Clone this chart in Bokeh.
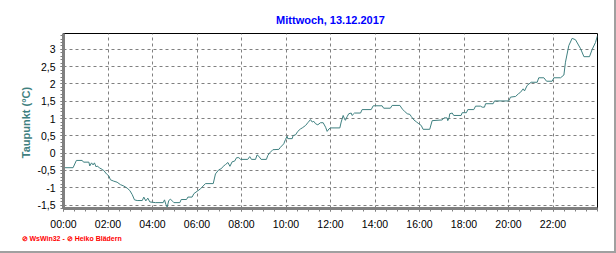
from bokeh.plotting import figure
from bokeh.models import FixedTicker, CustomJSTickFormatter, Title, Range1d
from bokeh.embed import file_html
from bokeh.resources import INLINE

title_text = "Mittwoch, 13.12.2017"
y_label_text = "Taupunkt  (°C)"
footer_text = "⊘ WsWin32  -  ⊘ Heiko Blädern"

hours = [0.0, 0.43, 0.58, 0.84, 0.9, 1.14, 1.18, 1.26, 1.33, 1.39, 1.47, 1.51, 1.63, 1.74, 1.81, 1.93,
         2.04, 2.11, 2.26, 2.41, 2.56, 2.71, 2.86, 2.98, 3.09, 3.19, 3.31, 3.54, 3.61, 3.70, 3.79, 3.88,
         4.13, 4.48, 4.54, 4.60, 4.66, 4.73, 4.81, 4.90, 4.96, 5.23, 5.29, 5.53, 5.59, 5.78, 5.86, 6.01,
         6.16, 6.23, 6.38, 6.73, 6.83, 6.98, 7.09, 7.18, 7.28, 7.39, 7.48, 7.58, 7.69, 7.78, 7.88, 7.96,
         8.28, 8.37, 8.45, 8.63, 8.70, 8.78, 8.88, 9.12, 9.18, 9.27, 9.41, 9.68, 9.75, 9.90, 9.98, 10.05,
         10.08, 10.28, 10.32, 10.43, 10.53, 10.65, 10.73, 10.88, 10.98, 11.10, 11.18, 11.25, 11.33, 11.43,
         11.55, 11.67, 11.78, 11.85, 11.93, 12.00, 12.42, 12.48, 12.57, 12.63, 12.67, 12.75, 12.82, 12.93,
         12.97, 13.08, 13.35, 13.42, 13.83, 13.92, 14.32, 14.39, 14.69, 14.77, 15.12, 15.22, 15.33, 15.45,
         15.57, 15.63, 15.75, 15.87, 15.97, 16.08, 16.16, 16.46, 16.57, 17.02, 17.10, 17.24, 17.27, 17.33,
         17.36, 17.47, 17.54, 17.87, 17.92, 18.11, 18.17, 18.44, 18.52, 18.74, 18.82, 18.92, 18.97, 19.31,
         19.37, 20.01, 20.09, 20.32, 20.45, 20.54, 20.66, 20.72, 20.84, 21.02, 21.29, 21.36, 21.59, 21.71,
         21.96, 22.04, 22.34, 22.49, 22.56, 22.71, 22.86, 23.01, 23.24, 23.39, 23.64, 23.76, 23.91, 24.0]

dewpoint = [-0.42, -0.42, -0.21, -0.21, -0.26, -0.26, -0.37, -0.28, -0.34, -0.28, -0.40, -0.37, -0.43, -0.47, -0.50, -0.60,
            -0.66, -0.77, -0.81, -0.84, -0.91, -0.95, -1.01, -1.08, -1.20, -1.35, -1.37, -1.37, -1.27, -1.38, -1.30, -1.41,
            -1.43, -1.43, -1.35, -1.48, -1.56, -1.37, -1.33, -1.39, -1.43, -1.43, -1.34, -1.34, -1.27, -1.27, -1.17, -1.10,
            -1.03, -0.98, -0.88, -0.88, -0.60, -0.48, -0.45, -0.38, -0.33, -0.27, -0.38, -0.25, -0.23, -0.13, -0.13, -0.18,
            -0.18, -0.10, -0.18, -0.18, -0.05, -0.09, -0.18, -0.18, -0.07, 0.01, 0.10, 0.11, 0.17, 0.27, 0.40, 0.49,
            0.42, 0.42, 0.51, 0.53, 0.63, 0.70, 0.73, 0.80, 0.88, 0.97, 0.90, 0.92, 0.85, 0.82,
            0.88, 0.88, 0.75, 0.63, 0.70, 0.73, 0.73, 0.90, 1.09, 0.99, 0.95, 1.06, 1.14, 1.16,
            1.09, 1.16, 1.16, 1.26, 1.26, 1.37, 1.37, 1.30, 1.30, 1.38, 1.38, 1.28, 1.21, 1.14,
            1.12, 1.06, 0.96, 0.90, 0.85, 0.80, 0.69, 0.69, 0.94, 0.96, 1.02, 1.02, 0.94, 1.02,
            1.14, 1.16, 1.09, 1.09, 1.17, 1.17, 1.26, 1.26, 1.36, 1.36, 1.33, 1.33, 1.43, 1.43,
            1.51, 1.51, 1.62, 1.64, 1.72, 1.76, 1.86, 1.80, 1.96, 2.05, 2.05, 2.18, 2.18, 2.08,
            2.08, 2.18, 2.18, 2.26, 2.63, 3.11, 3.32, 3.28, 3.02, 2.79, 2.79, 3.00, 3.20, 3.40]

x_ticks = [0, 2, 4, 6, 8, 10, 12, 14, 16, 18, 20, 22]
x_tick_labels = ["00:00", "02:00", "04:00", "06:00", "08:00", "10:00", "12:00", "14:00", "16:00", "18:00", "20:00", "22:00"]
x_minor = [i * 0.5 for i in range(0, 49)]
y_ticks = [-1.5, -1.0, -0.5, 0.0, 0.5, 1.0, 1.5, 2.0, 2.5, 3.0]
y_tick_labels = ["-1,5", "-1", "-0,5", "0", "0,5", "1", "1,5", "2", "2,5", "3"]
y_minor = [round(-1.6 + i * 0.1, 2) for i in range(0, 51)]

FONT = "Liberation Sans"
TEAL = "#3f8080"
GRAY = "#808080"

p = figure(width=616, height=253, output_backend="svg", toolbar_location=None,
           x_range=Range1d(0, 24), y_range=Range1d(-1.6, 3.46),
           min_border_left=63, min_border_right=19, min_border_top=33, min_border_bottom=45,
           background_fill_color="white", border_fill_color="white")

p.title.text = title_text
p.title.align = "center"
p.title.vertical_align = "top"
p.title.text_font = FONT
p.title.text_font_size = "11px"
p.title.text_font_style = "bold"
p.title.text_color = "#0000ff"
p.title.standoff = 12

p.line(hours, dewpoint, line_color=TEAL, line_width=1)

p.outline_line_color = "black"
p.outline_line_width = 1

fmt_code = """
const i = vals.findIndex(v => Math.abs(v - tick) < 1e-6);
return i >= 0 ? labs[i] : '';
"""
p.xaxis.ticker = FixedTicker(ticks=x_ticks, minor_ticks=x_minor)
p.xaxis.formatter = CustomJSTickFormatter(args=dict(vals=x_ticks, labs=x_tick_labels), code=fmt_code)
p.yaxis.ticker = FixedTicker(ticks=y_ticks, minor_ticks=y_minor)
p.yaxis.formatter = CustomJSTickFormatter(args=dict(vals=y_ticks, labs=y_tick_labels), code=fmt_code)

for ax in (p.xaxis, p.yaxis):
    ax.axis_line_color = GRAY
    ax.axis_line_width = 3
    ax.major_tick_line_color = GRAY
    ax.minor_tick_line_color = GRAY
    ax.major_tick_in = 0
    ax.minor_tick_in = 0
    ax.major_tick_out = 3
    ax.minor_tick_out = 3
    ax.major_label_text_font = FONT
    ax.major_label_text_font_size = "10.5px"
    ax.major_label_text_color = "black"

p.xaxis.major_label_standoff = 6
p.yaxis.major_label_standoff = 5

p.yaxis.axis_label = y_label_text
p.yaxis.axis_label_text_font = FONT
p.yaxis.axis_label_text_font_size = "11px"
p.yaxis.axis_label_text_font_style = "bold"
p.yaxis.axis_label_text_color = TEAL
p.yaxis.axis_label_standoff = 2

for g in (p.xgrid, p.ygrid):
    g.grid_line_color = GRAY
    g.grid_line_dash = "3 3"
    g.grid_line_width = 1
p.xgrid.ticker = FixedTicker(ticks=x_ticks)
p.ygrid.ticker = FixedTicker(ticks=y_ticks)

footer = Title(text=footer_text, align="left", offset=-42, standoff=1,
               text_font=FONT, text_font_size="7px", text_font_style="bold",
               text_color="#ff0000")
p.add_layout(footer, "below")

p.styles = {"border-right": "2px solid #a0a0a0", "border-bottom": "2px solid #a0a0a0", "box-sizing": "border-box"}

open("out.html", "w").write(file_html(p, INLINE))
